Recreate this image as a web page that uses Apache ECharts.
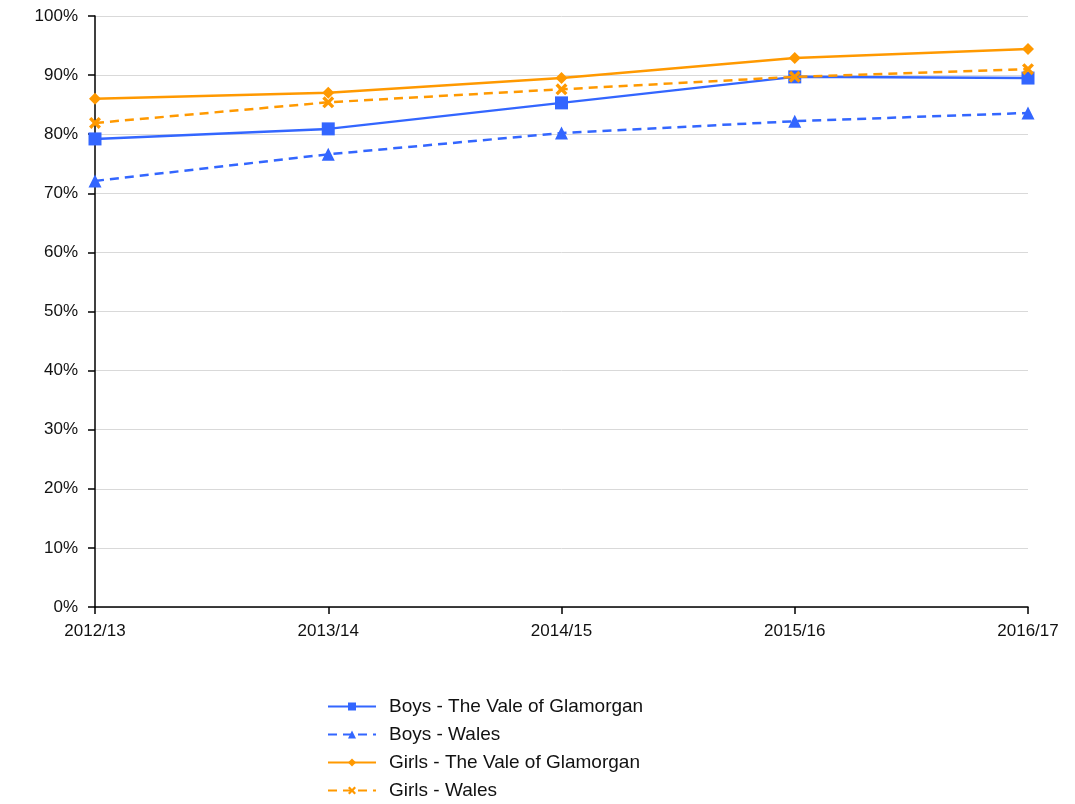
<!DOCTYPE html>
<html>
<head>
<meta charset="utf-8">
<script src="https://cdn.jsdelivr.net/npm/echarts@6/dist/echarts.min.js"></script>
<style>
  html, body { margin: 0; padding: 0; background: #fff; }
  #chart { width: 1075px; height: 804px; }
</style>
</head>
<body>
<div id="chart"></div>
<script>
// data
var years = ['2012/13', '2013/14', '2014/15', '2015/16', '2016/17'];
var boysVale = [79.2, 80.9, 85.3, 89.7, 89.5];
var boysWales = [72.1, 76.6, 80.2, 82.2, 83.6];
var girlsVale = [86.0, 87.0, 89.5, 92.9, 94.4];
var girlsWales = [81.9, 85.4, 87.6, 89.7, 91.0];

var blue = '#3366ff';
var orange = '#ff9900';
var crossPath = 'path://M0,2 L2,0 L5,3 L8,0 L10,2 L7,5 L10,8 L8,10 L5,7 L2,10 L0,8 L3,5 Z';

function line(name, data, color, dashed, symbol, size) {
  return {
    name: name,
    type: 'line',
    data: data,
    symbol: symbol,
    symbolSize: size,
    showAllSymbol: true,
    lineStyle: { color: color, width: 2.5, type: dashed ? [9, 6] : 'solid' },
    itemStyle: { color: color },
    z: dashed ? 3 : 2
  };
}

var chart = echarts.init(document.getElementById('chart'));
chart.setOption({
  animation: false,
  textStyle: { fontFamily: 'Liberation Sans, Arial, sans-serif' },
  grid: { left: 95, right: 47, top: 16, bottom: 197 },
  xAxis: {
    type: 'category',
    data: years,
    boundaryGap: false,
    axisLine: { lineStyle: { color: '#000', width: 1.5 } },
    axisTick: { show: true, length: 7, lineStyle: { color: '#000', width: 1.5 } },
    axisLabel: { color: '#111', fontSize: 17, margin: 16 },
    splitLine: { show: false }
  },
  yAxis: {
    type: 'value',
    min: 0,
    max: 100,
    interval: 10,
    axisLine: { show: true, lineStyle: { color: '#000', width: 1.5 } },
    axisTick: { show: true, length: 7, lineStyle: { color: '#000', width: 1.5 } },
    axisLabel: { color: '#111', fontSize: 17, margin: 17, formatter: '{value}%' },
    splitLine: { lineStyle: { color: '#d9d9d9', width: 1 } }
  },
  legend: {
    orient: 'vertical',
    left: 327,
    top: 697,
    height: 110,
    padding: 0,
    itemWidth: 48,
    itemHeight: 10,
    itemGap: 9,
    textStyle: { color: '#111', fontSize: 19, padding: [0, 0, 0, 8] },
    data: ['Boys - The Vale of Glamorgan', 'Boys - Wales', 'Girls - The Vale of Glamorgan', 'Girls - Wales']
  },
  series: [
    line('Boys - The Vale of Glamorgan', boysVale, blue, false, 'rect', 13),
    line('Boys - Wales', boysWales, blue, true, 'triangle', 13),
    line('Girls - The Vale of Glamorgan', girlsVale, orange, false, 'diamond', 12),
    line('Girls - Wales', girlsWales, orange, true, crossPath, 12)
  ]
});
</script>
</body>
</html>
